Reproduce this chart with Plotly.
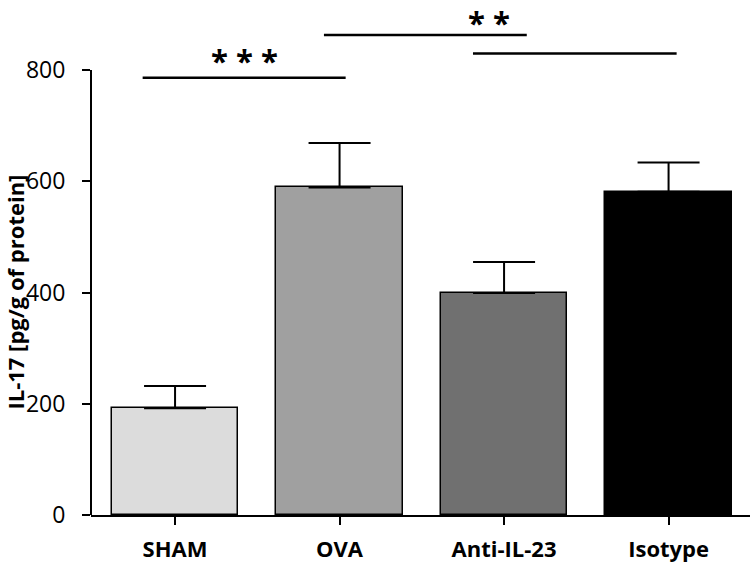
import plotly.graph_objects as go

# 组别与数值
groups = ["SHAM", "OVA", "Anti-IL-23", "Isotype"]
il17_mean = [192, 589, 399, 581]
il17_err = [40, 80, 56, 53]
bar_colors = ["#dcdcdc", "#a0a0a0", "#707070", "#000000"]

# 显著性标记：横线两端 (x 为组序号坐标) 与高度
sig_lines = [
    ([-0.197, 1.037], 786),
    ([0.905, 2.138], 863),
    ([1.811, 3.049], 830),
]
# (文字, x, y, 对齐, 上移像素)
sig_stars = [("* * *", 0.425, 818, "middle", 0), ("* *", 1.908, 910, "top", 9)]

y_ticks = [0, 200, 400, 600, 800]
x_pos = list(range(len(groups)))

fig = go.Figure()
fig.add_trace(go.Bar(
    x=x_pos, y=il17_mean, width=0.77,
    marker=dict(color=bar_colors, line=dict(color="black", width=1.5)),
    error_y=dict(type="data", array=il17_err, symmetric=False,
                 arrayminus=[0] * len(groups), color="black",
                 thickness=2, width=31),
    showlegend=False,
))

for xs, y in sig_lines:
    fig.add_trace(go.Scatter(x=xs, y=[y, y], mode="lines",
                             line=dict(color="black", width=2.5),
                             showlegend=False, hoverinfo="skip"))

for txt, x, y, anchor, shift in sig_stars:
    fig.add_annotation(x=x, y=y, text=f"<b>{txt}</b>", showarrow=False,
                       font=dict(size=31, color="black"), yanchor=anchor,
                       yshift=shift, borderpad=0)

# y 轴线只画到 800，轴标题居中于 0-800
fig.add_shape(type="line", xref="paper", x0=0, x1=0, yref="y", y0=0, y1=800,
              line=dict(color="black", width=2))
fig.add_annotation(xref="paper", x=0, xshift=-76, yref="y", y=400,
                   text="<b>IL-17 [pg/g of protein]</b>", textangle=-90,
                   showarrow=False, font=dict(size=22, color="black"),
                   xanchor="center", yanchor="middle")

fig.update_layout(
    width=750, height=567,
    margin=dict(l=91, r=0, t=5, b=52),
    plot_bgcolor="white", paper_bgcolor="white",
    font=dict(family="Open Sans", color="black"),
    bargap=0,
)
fig.update_xaxes(
    range=[-0.511, 3.495], tickvals=x_pos,
    ticktext=[f"<b>{g}</b>" for g in groups],
    showline=True, linecolor="black", linewidth=2,
    ticks="outside", ticklen=8, tickwidth=2, tickcolor="black",
    tickfont=dict(size=22), ticklabelstandoff=6,
    showgrid=False, zeroline=False,
)
fig.update_yaxes(
    range=[0, 917], tickvals=y_ticks,
    showline=False, ticks="outside", ticklen=8, tickwidth=2,
    tickcolor="black", tickfont=dict(size=23), ticklabelstandoff=12,
    showgrid=False, zeroline=False,
)

# 去掉页面默认 body 边距，图从左上角开始
fig.write_html("out.html", config={"displayModeBar": False},
               post_script="document.body.style.margin='0';")
